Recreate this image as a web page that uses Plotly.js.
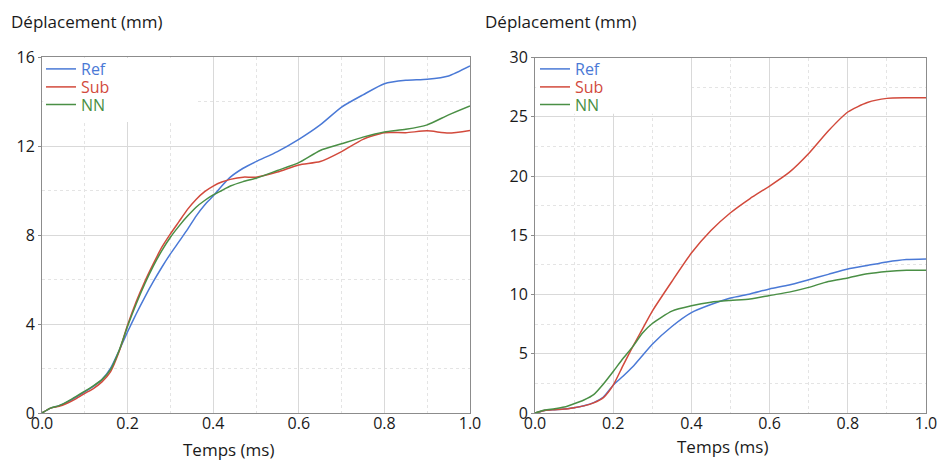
<!DOCTYPE html>
<html>
<head>
<meta charset="utf-8">
<script src="https://cdn.plot.ly/plotly-3.0.1.min.js"></script>
<style>html,body{margin:0;padding:0;background:#fff}#chart{width:938px;height:460px}</style>
</head>
<body>
<div id="chart"></div>
<script>
// ---- Data ----
const seriesNames = ['Ref', 'Sub', 'NN'];
const yTitle = 'Déplacement (mm)';
const xTitle = 'Temps (ms)';

// Left chart
const tLeft = [0, 0.02, 0.04, 0.06, 0.08, 0.10, 0.12, 0.14, 0.16, 0.18, 0.20, 0.22, 0.24, 0.26, 0.28, 0.30, 0.32, 0.34, 0.36, 0.38, 0.40, 0.42, 0.44, 0.47, 0.50, 0.55, 0.60, 0.65, 0.70, 0.75, 0.80, 0.85, 0.90, 0.95, 1.0];
const refLeft = [0, 0.22, 0.33, 0.5, 0.72, 0.95, 1.2, 1.5, 2.0, 2.8, 3.65, 4.45, 5.2, 5.9, 6.55, 7.15, 7.7, 8.25, 8.85, 9.35, 9.75, 10.2, 10.6, 11.0, 11.3, 11.75, 12.3, 12.95, 13.75, 14.3, 14.8, 14.95, 15.0, 15.15, 15.6];
const subLeft = [0, 0.22, 0.3, 0.45, 0.65, 0.88, 1.1, 1.4, 1.85, 2.75, 3.95, 5.0, 5.9, 6.7, 7.45, 8.05, 8.6, 9.15, 9.6, 9.95, 10.2, 10.38, 10.5, 10.6, 10.6, 10.83, 11.15, 11.3, 11.75, 12.3, 12.6, 12.6, 12.68, 12.58, 12.7];
const nnLeft = [0, 0.22, 0.33, 0.52, 0.75, 0.98, 1.22, 1.5, 1.95, 2.8, 3.9, 4.9, 5.8, 6.6, 7.3, 7.9, 8.4, 8.85, 9.25, 9.55, 9.8, 10.0, 10.2, 10.4, 10.55, 10.9, 11.25, 11.8, 12.1, 12.4, 12.63, 12.75, 12.95, 13.4, 13.8];

// Right chart
const tRight = [0, 0.025, 0.05, 0.075, 0.1, 0.125, 0.15, 0.175, 0.2, 0.225, 0.25, 0.275, 0.3, 0.35, 0.4, 0.45, 0.5, 0.55, 0.6, 0.65, 0.7, 0.75, 0.8, 0.85, 0.9, 0.95, 1.0];
const refRight = [0, 0.22, 0.28, 0.33, 0.45, 0.62, 0.88, 1.35, 2.35, 3.1, 3.9, 4.85, 5.8, 7.3, 8.47, 9.15, 9.7, 10.05, 10.47, 10.8, 11.25, 11.7, 12.15, 12.45, 12.75, 12.95, 13.0];
const subRight = [0, 0.22, 0.28, 0.33, 0.45, 0.6, 0.85, 1.3, 2.35, 4.0, 5.6, 7.1, 8.6, 11.1, 13.5, 15.4, 16.9, 18.1, 19.15, 20.3, 21.9, 23.8, 25.4, 26.2, 26.55, 26.6, 26.6];
const nnRight = [0, 0.25, 0.35, 0.5, 0.78, 1.1, 1.55, 2.45, 3.5, 4.6, 5.6, 6.75, 7.55, 8.6, 9.05, 9.35, 9.5, 9.62, 9.92, 10.2, 10.6, 11.1, 11.4, 11.75, 11.95, 12.05, 12.05];

const colors = ['#4a79d6', '#d24a3c', '#4a8f45'];

// ---- Layout helpers ----
const W = 938, H = 460;
const px = v => v / W;
const py = v => 1 - v / H;

const leftData = [refLeft, subLeft, nnLeft];
const rightData = [refRight, subRight, nnRight];

const traces = [];
seriesNames.forEach((n, i) => {
  traces.push({
    x: tLeft, y: leftData[i], name: n, type: 'scatter', mode: 'lines',
    line: {color: colors[i], width: 1.5, shape: 'spline', smoothing: 0.6},
    xaxis: 'x', yaxis: 'y', legend: i === 0 ? 'legend' : 'legend' + (i + 1),
    hoverinfo: 'skip'
  });
});
seriesNames.forEach((n, i) => {
  traces.push({
    x: tRight, y: rightData[i], name: n, type: 'scatter', mode: 'lines',
    line: {color: colors[i], width: 1.5, shape: 'spline', smoothing: 0.6},
    xaxis: 'x2', yaxis: 'y2', legend: 'legend' + (i + 4),
    hoverinfo: 'skip'
  });
});

const font = {family: '"Open Sans", "DejaVu Sans", sans-serif', color: '#1a1a1a'};
const gridMajor = '#d9d9d9', gridMinor = '#e4e4e4', frame = '#8c8c8c';

function xAxis(domain, anchor) {
  return {
    domain: domain, anchor: anchor, range: [0, 1], dtick: 0.2, tick0: 0, tickformat: '.1f',
    showgrid: true, gridcolor: gridMajor, gridwidth: 1,
    minor: {dtick: 0.1, tick0: 0, showgrid: true, gridcolor: gridMinor, griddash: 'dot', gridwidth: 1},
    showline: true, mirror: true, linecolor: frame, linewidth: 1,
    zeroline: false, ticks: '', ticklabelstandoff: -4,
    tickfont: {size: 16, family: font.family, color: font.color},
    fixedrange: true
  };
}
function yAxis(domain, anchor, max, dt) {
  return {
    domain: domain, anchor: anchor, range: [0, max], dtick: dt, tick0: 0,
    showgrid: true, gridcolor: gridMajor, gridwidth: 1,
    minor: {dtick: dt / 2, tick0: 0, showgrid: true, gridcolor: gridMinor, griddash: 'dot', gridwidth: 1},
    showline: true, mirror: true, linecolor: frame, linewidth: 1,
    zeroline: false, ticks: 'outside', ticklen: 3, tickcolor: frame,
    tickfont: {size: 16, family: font.family, color: font.color},
    fixedrange: true
  };
}

function legendAt(xpx, ypx, color) {
  return {
    x: px(xpx), y: py(ypx), xanchor: 'left', yanchor: 'middle',
    bgcolor: 'rgba(0,0,0,0)', borderwidth: 0, itemwidth: 30,
    font: {family: font.family, size: 16, color: color},
    itemclick: false, itemdoubleclick: false
  };
}

const layout = {
  width: W, height: H,
  margin: {l: 0, r: 0, t: 0, b: 0},
  paper_bgcolor: '#ffffff', plot_bgcolor: '#ffffff',
  font: font,
  showlegend: true,
  xaxis: xAxis([px(42), px(470)], 'y'),
  yaxis: yAxis([py(413), py(57)], 'x', 16, 4),
  xaxis2: xAxis([px(535), px(926)], 'y2'),
  yaxis2: yAxis([py(413), py(57.5)], 'x2', 30, 5),
  legend: legendAt(41, 69, colors[0]),
  legend2: legendAt(41, 87, colors[1]),
  legend3: legendAt(41, 104.5, colors[2]),
  legend4: legendAt(535, 69, colors[0]),
  legend5: legendAt(535, 87, colors[1]),
  legend6: legendAt(535, 104.5, colors[2]),
  shapes: [
    {type: 'rect', xref: 'x', yref: 'y', x0: 0.003, x1: 0.362, y0: 13.08, y1: 15.96,
     fillcolor: '#ffffff', line: {width: 0}, layer: 'between'},
    {type: 'rect', xref: 'x2', yref: 'y2', x0: 0.003, x1: 0.396, y0: 25.25, y1: 29.95,
     fillcolor: '#ffffff', line: {width: 0}, layer: 'between'}
  ],
  annotations: [
    {text: yTitle, xref: 'paper', yref: 'paper', x: px(10), y: py(22), xanchor: 'left', yanchor: 'middle',
     showarrow: false, borderpad: 0, font: {size: 17, family: font.family, color: font.color}},
    {text: yTitle, xref: 'paper', yref: 'paper', x: px(484), y: py(22), xanchor: 'left', yanchor: 'middle',
     showarrow: false, borderpad: 0, font: {size: 17, family: font.family, color: font.color}},
    {text: xTitle, xref: 'paper', yref: 'paper', x: px(228), y: py(449), xanchor: 'center', yanchor: 'middle',
     showarrow: false, borderpad: 0, font: {size: 17, family: font.family, color: font.color}},
    {text: xTitle, xref: 'paper', yref: 'paper', x: px(722), y: py(446), xanchor: 'center', yanchor: 'middle',
     showarrow: false, borderpad: 0, font: {size: 17, family: font.family, color: font.color}}
  ]
};

Plotly.newPlot('chart', traces, layout, {displayModeBar: false, staticPlot: true});
</script>
</body>
</html>
